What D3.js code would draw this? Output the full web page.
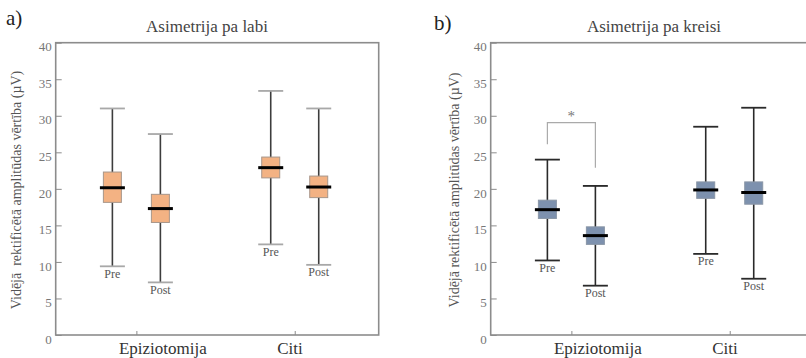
<!DOCTYPE html>
<html>
<head>
<meta charset="utf-8">
<script src="https://cdn.jsdelivr.net/npm/d3@7"></script>
<style>
  body { margin: 0; background: #fff; }
  svg { display: block; font-family: "Liberation Serif", "Times New Roman", serif; }
</style>
</head>
<body>
<div id="chart"></div>
<script>
// order of the boxes: Epiziotomija Pre, Epiziotomija Post, Citi Pre, Citi Post
const categories = ['Epiziotomija', 'Citi'];
const phases = ['Pre', 'Post'];
const yTicks = [0, 5, 10, 15, 20, 25, 30, 35, 40];

const labiMin = [9.4, 7.2, 12.4, 9.6];
const labiQ1 = [18.15, 15.4, 21.5, 18.8];
const labiMedian = [20.15, 17.3, 22.9, 20.25];
const labiQ3 = [22.3, 19.25, 24.35, 21.75];
const labiMax = [31.0, 27.5, 33.4, 31.0];

const kreisiMin = [10.2, 6.75, 11.1, 7.7];
const kreisiQ1 = [15.95, 12.4, 18.7, 17.9];
const kreisiMedian = [17.15, 13.6, 19.85, 19.5];
const kreisiQ3 = [18.45, 14.8, 20.95, 20.95];
const kreisiMax = [24.0, 20.4, 28.5, 31.1];

// significance bracket (right panel, Epiziotomija Pre vs Post)
const bracketTop = 29.05;
const bracketLeftEnd = 26.1;
const bracketRightEnd = 22.9;

const width = 806;
const height = 358;
const innerWidth = 323;
const innerHeight = 292.3;
const serif = 'Liberation Serif, serif';

function toBoxes(mins, q1s, meds, q3s, maxs) {
    const rows = [];
    categories.forEach((c, ci) => {
        phases.forEach((p, pi) => {
            const i = ci * phases.length + pi;
            rows.push({ category: c, phase: p, min: mins[i], q1: q1s[i], median: meds[i], q3: q3s[i], max: maxs[i] });
        });
    });
    return rows;
}

const svg = d3.select('#chart')
    .append('svg')
    .attr('width', width)
    .attr('height', height);

function drawPanel(opts) {
    const g = svg.append('g')
        .attr('transform', `translate(${opts.left},42.7)`);

    const xScale = d3.scalePoint()
        .domain(categories)
        .range([0, innerWidth])
        .padding(0.52)
        .align(0.49);
    const phaseScale = d3.scalePoint()
        .domain(phases)
        .range([-24, 24]);
    const yScale = d3.scaleLinear()
        .domain([0, 40])
        .range([innerHeight, 0]);

    const cx = d => xScale(d.category) + phaseScale(d.phase);

    // frame
    g.append('rect')
        .attr('x', 0)
        .attr('y', 0)
        .attr('width', innerWidth)
        .attr('height', innerHeight)
        .attr('fill', 'none')
        .attr('stroke', '#8c8c8c')
        .attr('stroke-width', 1.6);

    const yAxis = d3.axisLeft(yScale)
        .tickValues(yTicks)
        .tickSize(-6)
        .tickPadding(4);
    g.append('g')
        .classed('y axis', true)
        .call(yAxis)
        .attr('font-family', serif)
        .attr('font-size', 13)
        .call(a => a.select('.domain').remove())
        .call(a => a.selectAll('line').attr('stroke', '#8c8c8c'))
        .call(a => a.selectAll('text')
            .attr('y', 4)
            .attr('dy', '0.32em')
            .attr('fill', '#777'));

    const xAxis = d3.axisBottom(xScale)
        .tickSize(-4)
        .tickPadding(7);
    g.append('g')
        .classed('x axis', true)
        .attr('transform', `translate(0,${innerHeight})`)
        .call(xAxis)
        .attr('font-family', serif)
        .attr('font-size', 17)
        .call(a => a.select('.domain').remove())
        .call(a => a.selectAll('line').attr('stroke', '#8c8c8c'))
        .call(a => a.selectAll('text')
            .attr('y', 19)
            .attr('dy', null)
            .attr('fill', '#333')
            .attr('text-anchor', 'start')
            .attr('dx', -18));

    const box = g.selectAll('.box')
        .data(opts.data)
        .enter()
        .append('g')
        .classed('box', true);

    box.append('line')
        .attr('x1', cx)
        .attr('x2', cx)
        .attr('y1', d => yScale(d.min))
        .attr('y2', d => yScale(d.max))
        .attr('stroke', opts.whisker)
        .attr('stroke-width', 1.6);

    ['min', 'max'].forEach(k => {
        box.append('line')
            .attr('x1', d => cx(d) - 12.5)
            .attr('x2', d => cx(d) + 12.5)
            .attr('y1', d => yScale(d[k]))
            .attr('y2', d => yScale(d[k]))
            .attr('stroke', opts.cap)
            .attr('stroke-width', 1.8);
    });

    box.append('rect')
        .attr('x', d => cx(d) - 9)
        .attr('y', d => yScale(d.q3))
        .attr('width', 18)
        .attr('height', d => yScale(d.q1) - yScale(d.q3))
        .attr('fill', opts.fill)
        .attr('stroke', opts.boxStroke)
        .attr('stroke-width', 1);

    box.append('line')
        .attr('x1', d => cx(d) - 12.5)
        .attr('x2', d => cx(d) + 12.5)
        .attr('y1', d => yScale(d.median))
        .attr('y2', d => yScale(d.median))
        .attr('stroke', '#000')
        .attr('stroke-width', 3);

    box.append('text')
        .attr('x', cx)
        .attr('y', d => yScale(d.min) + 11.5)
        .attr('text-anchor', 'middle')
        .attr('fill', '#555')
        .style('font-size', '12px')
        .text(d => d.phase);

    // title, panel letter, y label
    svg.append('text')
        .attr('x', opts.titleX)
        .attr('y', 32)
        .attr('text-anchor', 'middle')
        .attr('fill', '#444')
        .style('font-size', '17px')
        .text(opts.title);

    svg.append('text')
        .attr('x', opts.letterX)
        .attr('y', opts.letterY)
        .attr('fill', '#222')
        .style('font-size', '21px')
        .text(opts.letter);

    svg.append('text')
        .attr('transform', `translate(${opts.labelX},190) rotate(-90)`)
        .attr('text-anchor', 'middle')
        .attr('fill', '#555')
        .style('font-size', '14px')
        .text(opts.yLabel);

    return { g, xScale, phaseScale, yScale };
}

drawPanel({
    left: 55.7,
    data: toBoxes(labiMin, labiQ1, labiMedian, labiQ3, labiMax),
    fill: '#f3b283',
    boxStroke: '#a7968a',
    whisker: '#3d3d3d',
    cap: '#a8a8a8',
    title: 'Asimetrija pa labi',
    titleX: 207,
    letter: 'a)',
    letterX: 6,
    letterY: 25,
    labelX: 21,
    yLabel: 'Vidējā \u00a0rektificētā amplitūdas vērtība (µV)'
});

const right = drawPanel({
    left: 490.7,
    data: toBoxes(kreisiMin, kreisiQ1, kreisiMedian, kreisiQ3, kreisiMax),
    fill: '#7d91ae',
    boxStroke: '#8a96a6',
    whisker: '#2a2a2a',
    cap: '#2a2a2a',
    title: 'Asimetrija pa kreisi',
    titleX: 654,
    letter: 'b)',
    letterX: 434,
    letterY: 30,
    labelX: 459,
    yLabel: 'Vidējā rektificētā amplitūdas vērtība (µV)'
});

const bx1 = right.xScale('Epiziotomija') + right.phaseScale('Pre');
const bx2 = right.xScale('Epiziotomija') + right.phaseScale('Post');
right.g.append('path')
    .attr('d', d3.line()([
        [bx1, right.yScale(bracketLeftEnd)],
        [bx1, right.yScale(bracketTop)],
        [bx2, right.yScale(bracketTop)],
        [bx2, right.yScale(bracketRightEnd)]
    ]))
    .attr('fill', 'none')
    .attr('stroke', '#aaa')
    .attr('stroke-width', 1.2);

right.g.append('text')
    .attr('x', (bx1 + bx2) / 2)
    .attr('y', right.yScale(bracketTop) - 2)
    .attr('text-anchor', 'middle')
    .attr('fill', '#777')
    .style('font-size', '15px')
    .text('*');
</script>
</body>
</html>
